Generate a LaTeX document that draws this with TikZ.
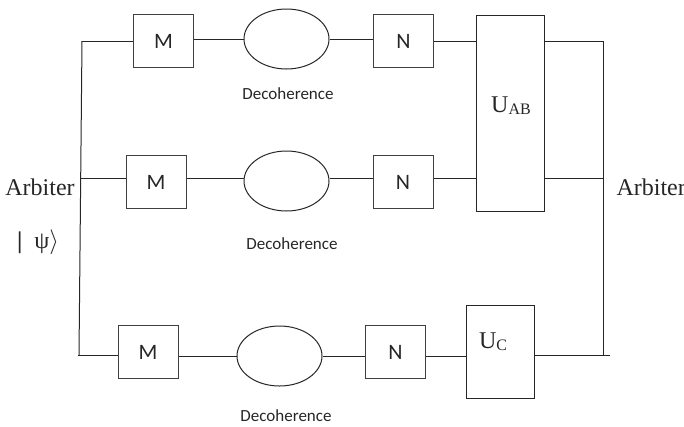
\documentclass[tikz,border=0pt]{standalone}
\usepackage{fontspec}
\setmainfont{Liberation Serif}
\newfontfamily\calibri{Carlito}
\usetikzlibrary{shapes.geometric}

\begin{document}
\begin{tikzpicture}[x=1pt, y=-1pt, line width=1pt, color=black!85,
	box/.style={draw=black!75, minimum width=60pt, minimum height=53pt, inner sep=0pt, font=\calibri\fontsize{22}{22}\selectfont},
	deco/.style={draw=black!85, ellipse, minimum width=85pt, minimum height=60pt, inner sep=0pt},
	ubox/.style={draw=black!85, minimum width=68pt, inner sep=0pt},
	lbl/.style={font=\calibri\fontsize{17}{17}\selectfont},
	txt/.style={font=\fontsize{24}{24}\selectfont, inner sep=0pt}]
	\useasboundingbox (0,0) rectangle (684,426);
	% rows: M -- decoherence -- N
	\node[box] (M1) at (163.5,41) {M};
	\node[deco] (E1) at (286.5,39) {};
	\node[box] (N1) at (403.5,41) {N};
	\node[lbl] (D1) at (288,94) {Decoherence};
	\node[box] (M2) at (156,182) {M};
	\node[deco] (E2) at (286.5,181) {};
	\node[box] (N2) at (403,182) {N};
	\node[lbl] (D2) at (292,244) {Decoherence};
	\node[box] (M3) at (148,352) {M};
	\node[deco] (E3) at (279.5,356) {};
	\node[box] (N3) at (395.5,352) {N};
	\node[lbl] (D3) at (286,416) {Decoherence};
	% unitaries
	\node[ubox, minimum height=196pt] (UAB) at (510,113) {};
	\node[txt] (uabl) at (511,106) {U{\fontsize{16}{16}\selectfont\raisebox{-2pt}{AB}}};
	\node[ubox, minimum height=93pt] (UC) at (500,351.5) {};
	\node[txt] (ucl) at (493,342) {U{\fontsize{16}{16}\selectfont\raisebox{-2pt}{C}}};
	% arbiters
	\node[txt] (arbl) at (40,187) {Arbiter};
	\node[txt] (psi) at (38,242) {\textbf{|}\enspace ψ$\rangle$};
	\node[txt, anchor=west] (arbr) at (616,187) {Arbiter};
	\coordinate (tl) at (82,41);
	\coordinate (ml) at (81,178);
	\coordinate (bl) at (79,355);
	\coordinate (tr) at (603,41);
	\coordinate (mr) at (603,178);
	\coordinate (br) at (603,355);
	% wires
	\draw (tl) -- (bl);
	\draw (tr) -- (br);
	\draw (tl) -- (tl -| M1.west);
	\draw (M1.east |- E1.west) -- (E1.west) (E1.east) -- (N1.west |- E1.east);
	\draw (N1.east) -- (UAB.west |- N1.east) (UAB.east |- tr) -- (tr);
	\draw (ml) -- (ml -| M2.west);
	\draw (M2.east |- ml) -- (E2.west |- ml) (E2.east |- ml) -- (N2.west |- ml);
	\draw (N2.east |- ml) -- (UAB.west |- ml) (UAB.east |- mr) -- (mr);
	\draw ([xshift=-1pt]bl) -- (bl -| M3.west);
	\draw (M3.east |- E3.west) -- (E3.west) (E3.east) -- (N3.west |- E3.east);
	\draw (N3.east |- E3.east) -- (UC.west |- E3.east) (UC.east |- br) -- ([xshift=7pt]br);
\end{tikzpicture}
\end{document}
